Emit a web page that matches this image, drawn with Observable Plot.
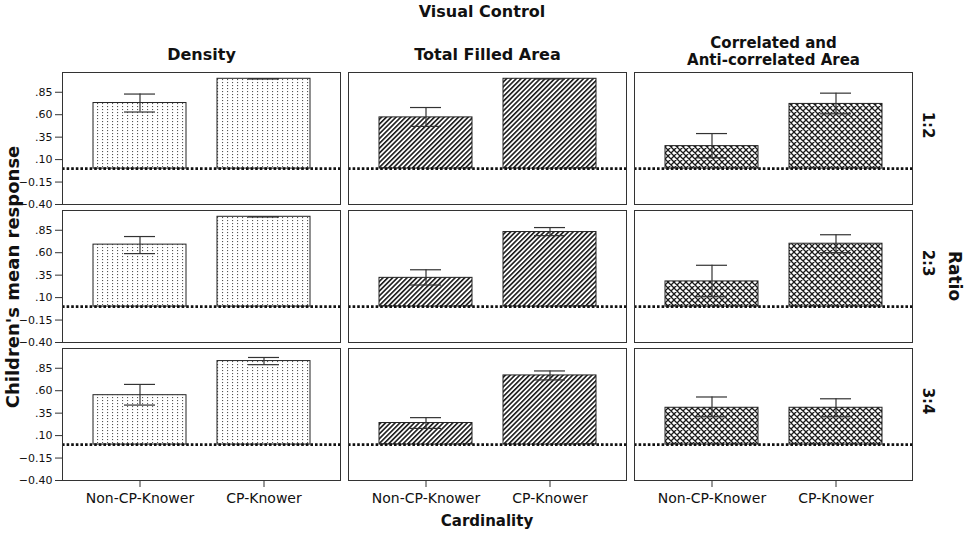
<!DOCTYPE html>
<html>
<head>
<meta charset="utf-8">
<script src="https://cdn.jsdelivr.net/npm/d3@7"></script>
<script src="https://cdn.jsdelivr.net/npm/@observablehq/plot@0.6"></script>
<style>
  html, body { margin: 0; padding: 0; background: #fff; }
  #wrap { position: relative; width: 964px; height: 537px; font-family: "DejaVu Sans", sans-serif; color: #111; }
  .lbl { position: absolute; font-weight: bold; font-size: 15px; white-space: nowrap; }
  .rot { transform: translate(-50%, -50%) rotate(-90deg); }
  .rot90 { transform: translate(-50%, -50%) rotate(90deg); }
</style>
</head>
<body>
<div id="wrap"></div>
<script>
// ---- data ----
const measures = ["Density", "Total Filled Area", "Correlated and Anti-correlated Area"];
const measureTitles = ["Density", "Total Filled Area", "Correlated and\nAnti-correlated Area"];
const ratios = ["1:2", "2:3", "3:4"];
const groups = ["Non-CP-Knower", "CP-Knower"];
const yTicks = [-0.40, -0.15, 0.10, 0.35, 0.60, 0.85];

// means: rows = ratios, [Non-CP-Knower, CP-Knower]
const densityMean = [[0.73, 1.00], [0.69, 1.00], [0.55, 0.93]];
const densityLow  = [[0.63, 1.00], [0.59, 1.00], [0.44, 0.89]];
const densityHigh = [[0.83, 1.00], [0.78, 1.00], [0.67, 0.97]];

const areaMean = [[0.57, 1.00], [0.32, 0.83], [0.24, 0.77]];
const areaLow  = [[0.47, 1.00], [0.24, 0.79], [0.18, 0.72]];
const areaHigh = [[0.68, 1.00], [0.41, 0.88], [0.30, 0.82]];

const corrMean = [[0.25, 0.72], [0.28, 0.70], [0.41, 0.41]];
const corrLow  = [[0.12, 0.61], [0.11, 0.60], [0.31, 0.31]];
const corrHigh = [[0.39, 0.84], [0.46, 0.80], [0.53, 0.51]];

// ---- build table ----
const series = [
  [densityMean, densityLow, densityHigh],
  [areaMean, areaLow, areaHigh],
  [corrMean, corrLow, corrHigh]
];
const rows = [];
measures.forEach((m, i) => {
  const [mean, low, high] = series[i];
  ratios.forEach((r, j) => {
    groups.forEach((g, k) => {
      rows.push({measure: m, ratio: r, group: g, mean: mean[j][k], lo: low[j][k], hi: high[j][k]});
    });
  });
});
const titleRows = measures.map((m, i) => ({measure: m, ratio: ratios[0], title: measureTitles[i]}));
const rowLabels = ratios.map(r => ({measure: measures[2], ratio: r}));
const patterns = ["url(#patDots)", "url(#patHatch)", "url(#patCross)"];

const fmt = d => d3.format(".2f")(d).replace(/^(-?)0\./, "$1.");

const marks = [];
measures.forEach((m, i) => {
  marks.push(Plot.barY(rows.filter(d => d.measure === m), {
    fx: "measure", fy: "ratio", x: "group", y: "mean",
    fill: patterns[i], stroke: "#222", strokeWidth: 1
  }));
});
marks.push(
  Plot.ruleY([0], {stroke: "#111", strokeWidth: 2.8, strokeDasharray: "2.6,2"}),
  Plot.ruleX(rows, {fx: "measure", fy: "ratio", x: "group", y1: "lo", y2: "hi", stroke: "#333", strokeWidth: 1.2}),
  Plot.tickY(rows, {fx: "measure", fy: "ratio", x: "group", y: "hi", insetLeft: 31, insetRight: 31, stroke: "#333", strokeWidth: 1.2}),
  Plot.tickY(rows, {fx: "measure", fy: "ratio", x: "group", y: "lo", insetLeft: 31, insetRight: 31, stroke: "#333", strokeWidth: 1.2}),
  Plot.frame({stroke: "#333", strokeWidth: 1}),
  Plot.axisY({ticks: yTicks, tickFormat: fmt, tickSize: 7, tickPadding: 3, label: null, fontSize: 11, stroke: "#333"}),
  Plot.axisX({tickSize: 7, tickPadding: 6, label: null, fontSize: 14, stroke: "#333"}),
  Plot.text(titleRows.filter(d => !d.title.includes("\n")), {
    fx: "measure", fy: "ratio", text: "title", frameAnchor: "top", lineAnchor: "bottom",
    dy: -13, fontWeight: "bold", fontSize: 16
  }),
  Plot.text(titleRows.filter(d => d.title.includes("\n")), {
    fx: "measure", fy: "ratio", text: "title", frameAnchor: "top", lineAnchor: "bottom",
    dy: -8, fontWeight: "bold", fontSize: 15, lineHeight: 1.1
  }),
  Plot.text(rowLabels, {
    fx: "measure", fy: "ratio", text: "ratio", frameAnchor: "right", dx: 15, rotate: 90,
    fontSize: 15, fontWeight: "bold"
  })
);

const chart = Plot.plot({
  width: 964,
  height: 537,
  marginLeft: 62,
  marginRight: 52,
  marginTop: 72,
  marginBottom: 57,
  style: {fontFamily: "DejaVu Sans, sans-serif", fontSize: "11px", color: "#111", background: "#fff"},
  fx: {domain: measures, axis: null, paddingInner: 0.028, paddingOuter: 0},
  fy: {domain: ratios, axis: null, paddingInner: 0.0435, paddingOuter: 0},
  x: {domain: groups, paddingInner: 0.25, paddingOuter: 0.24},
  y: {domain: [-0.40, 1.07]},
  marks
});

// pattern definitions
const svg = d3.select(chart);
const defs = svg.insert("defs", ":first-child");
const pd = defs.append("pattern").attr("id", "patDots").attr("patternUnits", "userSpaceOnUse")
  .attr("width", 5).attr("height", 3);
pd.append("rect").attr("width", 5).attr("height", 3).attr("fill", "#fff");
pd.append("rect").attr("x", 2).attr("y", 1).attr("width", 1.1).attr("height", 1.1).attr("fill", "#555");

const ph = defs.append("pattern").attr("id", "patHatch").attr("patternUnits", "userSpaceOnUse")
  .attr("width", 3.4).attr("height", 3.4).attr("patternTransform", "rotate(45)");
ph.append("rect").attr("width", 3.4).attr("height", 3.4).attr("fill", "#fff");
ph.append("rect").attr("x", 0).attr("y", 0).attr("width", 1.6).attr("height", 3.4)
  .attr("fill", "#1a1a1a");

const pc = defs.append("pattern").attr("id", "patCross").attr("patternUnits", "userSpaceOnUse")
  .attr("width", 6).attr("height", 6);
pc.append("rect").attr("width", 6).attr("height", 6).attr("fill", "#fff");
pc.append("path").attr("d", "M0,0L6,6M6,0L0,6M-1,5L1,7M5,-1L7,1M-1,1L1,-1M5,7L7,5")
  .attr("stroke", "#1a1a1a").attr("stroke-width", 1.3).attr("fill", "none");

const wrap = document.getElementById("wrap");
wrap.appendChild(chart);
chart.style.position = "absolute";
chart.style.left = "0px";
chart.style.top = "0px";

function addLabel(text, css, cls) {
  const el = document.createElement("div");
  el.className = "lbl" + (cls ? " " + cls : "");
  el.textContent = text;
  Object.assign(el.style, css);
  wrap.appendChild(el);
}
addLabel("Visual Control", {left: "0px", width: "964px", textAlign: "center", top: "2px", fontSize: "16px"});
addLabel("Cardinality", {left: "62px", width: "850px", textAlign: "center", top: "512px"});
addLabel("Children's mean response", {left: "12px", top: "277px", fontSize: "18px"}, "rot");
addLabel("Ratio", {left: "955px", top: "276px", fontSize: "17px"}, "rot90");
</script>
</body>
</html>
